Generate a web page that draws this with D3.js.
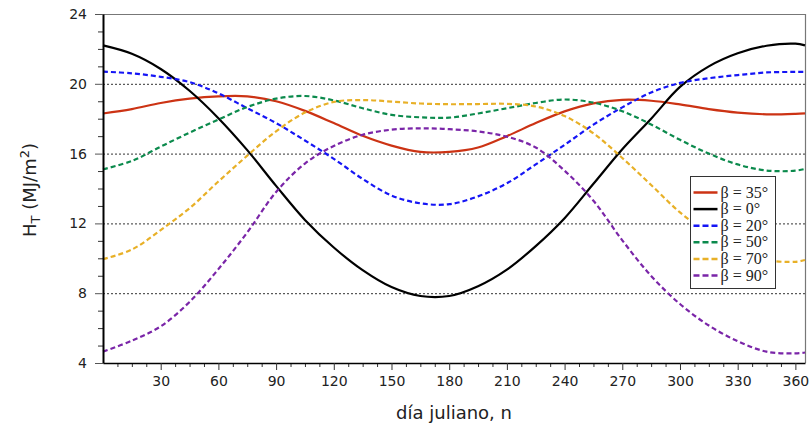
<!DOCTYPE html>
<head>
  <meta charset="utf-8">
  <script src="https://d3js.org/d3.v7.min.js"></script>
  <style>
    body { margin:0; background:white; overflow:hidden; }
    svg { display:block; }
    .tick text { font-family: "DejaVu Sans", sans-serif; font-size: 14px; fill: #222; }
    .grid line { stroke: #333; stroke-dasharray: 2,2; stroke-width: 1; }
    .legend text { font-family: "Liberation Serif", "Times New Roman", serif; font-size: 16px; fill: #222; }
  </style>
</head>

<body>
  <script>
    // dias del año muestreados
    var days = [0,15,30,45,60,75,90,105,120,135,150,165,180,195,210,225,240,255,270,285,300,315,330,345,360,365];

    var h35 = [18.3,18.55,18.9,19.15,19.28,19.28,19.0,18.45,17.75,17.02,16.46,16.1,16.1,16.35,17.0,17.75,18.42,18.88,19.08,19.03,18.82,18.55,18.35,18.25,18.28,18.31];
    var h0  = [22.2,21.72,20.85,19.6,18.03,16.2,14.15,12.2,10.62,9.32,8.35,7.84,7.84,8.4,9.35,10.7,12.3,14.27,16.25,18.0,19.82,21.0,21.75,22.18,22.3,22.2];
    var h20 = [20.7,20.6,20.4,20.1,19.45,18.6,17.75,16.75,15.7,14.55,13.6,13.15,13.1,13.55,14.3,15.38,16.5,17.66,18.65,19.5,20.05,20.32,20.5,20.65,20.68,20.68];
    var h50 = [15.1,15.58,16.4,17.2,17.95,18.67,19.15,19.3,19.05,18.6,18.22,18.08,18.06,18.3,18.6,18.9,19.1,18.92,18.43,17.67,16.79,16.0,15.38,15.03,15.02,15.12];
    var h70 = [9.95,10.5,11.62,12.87,14.4,15.88,17.28,18.35,18.96,19.07,18.98,18.87,18.83,18.84,18.85,18.7,18.15,17.16,15.75,14.2,12.63,11.4,10.45,9.9,9.8,9.9];
    var h90 = [4.65,5.28,6.1,7.5,9.38,11.48,13.8,15.43,16.44,17.08,17.37,17.45,17.4,17.27,16.97,16.35,15.02,13.3,11.03,8.99,7.38,6.15,5.25,4.65,4.55,4.6];

    var series = [
      { label: "β = 35°", values: h35, color: "#cc3314", dash: null },
      { label: "β = 0°",  values: h0,  color: "#000000", dash: null },
      { label: "β = 20°", values: h20, color: "#1515f5", dash: "5,3" },
      { label: "β = 50°", values: h50, color: "#0b8a4c", dash: "5,3" },
      { label: "β = 70°", values: h70, color: "#e8b027", dash: "5,3" },
      { label: "β = 90°", values: h90, color: "#7a25a8", dash: "5,3" }
    ];

    var xTicks = [30,60,90,120,150,180,210,240,270,300,330,360];
    var yTicks = [4,8,12,16,20,24];
    var gridY = [8,12,16,20];

    var width = 810, height = 424;
    var mLeft = 103, mRight = 805, mTop = 14, mBottom = 363;

    var svg = d3.select("body").append("svg")
        .attr("width", width)
        .attr("height", height);

    var x = d3.scaleLinear().domain([0, 365]).range([mLeft, mRight]);
    var y = d3.scaleLinear().domain([4, 24]).range([mBottom, mTop]);

    // rejilla punteada
    svg.append("g").attr("class", "grid")
      .selectAll("line").data(gridY).enter().append("line")
        .attr("x1", mLeft).attr("x2", mRight)
        .attr("y1", function(d) { return y(d) + 0.5; })
        .attr("y2", function(d) { return y(d) + 0.5; });

    // marco gris arriba y derecha
    svg.append("path")
      .attr("d", "M" + mLeft + "," + (mTop + 0.5) + "H" + (mRight + 0.5) + "V" + mBottom)
      .attr("fill", "none").attr("stroke", "#777").attr("stroke-width", 1.2);

    // curvas
    var line = d3.line()
      .x(function(d) { return x(d[0]); })
      .y(function(d) { return y(d[1]); })
      .curve(d3.curveCatmullRom.alpha(0.5));

    series.forEach(function(s) {
      svg.append("path")
        .datum(days.map(function(d, i) { return [d, s.values[i]]; }))
        .attr("d", line)
        .attr("fill", "none")
        .attr("stroke", s.color)
        .attr("stroke-width", 2.2)
        .attr("stroke-dasharray", s.dash);
    });

    // ejes
    var minorX = d3.range(7.5, 365, 7.5).filter(function(d) { return d % 30 !== 0; });
    svg.append("g")
      .attr("transform", "translate(0," + mBottom + ")")
      .call(d3.axisBottom(x).tickValues(minorX).tickSize(4).tickFormat(""))
      .call(function(g) { g.select(".domain").remove(); g.selectAll("line").attr("stroke", "#333"); });
    var xAxis = svg.append("g")
      .attr("transform", "translate(0," + mBottom + ")")
      .call(d3.axisBottom(x).tickValues(xTicks).tickSize(7).tickPadding(6).tickSizeOuter(0));
    xAxis.select(".domain").attr("stroke", "#000").attr("stroke-width", 1.5);
    xAxis.selectAll("line").attr("stroke", "#333");

    var minorY = d3.range(5, 24, 1).filter(function(d) { return d % 4 !== 0; });
    svg.append("g")
      .attr("transform", "translate(" + mLeft + ",0)")
      .call(d3.axisLeft(y).tickValues(minorY).tickSize(5).tickFormat(""))
      .call(function(g) { g.select(".domain").remove(); g.selectAll("line").attr("stroke", "#333"); });
    var yAxis = svg.append("g")
      .attr("transform", "translate(" + mLeft + ",0)")
      .call(d3.axisLeft(y).tickValues(yTicks).tickSize(8).tickPadding(8).tickSizeOuter(0));
    yAxis.select(".domain").attr("stroke", "#000").attr("stroke-width", 2);
    yAxis.selectAll("line").attr("stroke", "#555");

    // títulos de ejes
    svg.append("text")
      .attr("x", (mLeft + mRight) / 2).attr("y", 419)
      .attr("text-anchor", "middle")
      .style("font-family", "DejaVu Sans, sans-serif").style("font-size", "18px").style("fill", "#222")
      .text("día juliano, n");

    var yl = svg.append("text")
      .attr("transform", "translate(36,190) rotate(-90)")
      .attr("text-anchor", "middle")
      .style("font-family", "DejaVu Sans, sans-serif").style("font-size", "18px").style("fill", "#222");
    yl.append("tspan").text("H");
    yl.append("tspan").attr("dy", 4).style("font-size", "13px").text("T");
    yl.append("tspan").attr("dy", -4).text(" (MJ/m");
    yl.append("tspan").attr("dy", -7).style("font-size", "13px").text("2");
    yl.append("tspan").attr("dy", 7).text(")");

    // leyenda
    var lg = svg.append("g").attr("class", "legend").attr("transform", "translate(690.5,176.5)");
    lg.append("rect").attr("width", 85).attr("height", 112)
      .attr("fill", "white").attr("stroke", "#333").attr("stroke-width", 1);
    series.forEach(function(s, i) {
      var yy = 16 + i * 16.6;
      lg.append("line").attr("x1", 3).attr("x2", 27).attr("y1", yy).attr("y2", yy)
        .attr("stroke", s.color).attr("stroke-width", 2.5).attr("stroke-dasharray", s.dash ? "6,3" : null);
      lg.append("text").attr("x", 30).attr("y", yy + 5).text(s.label);
    });
  </script>
</body>
